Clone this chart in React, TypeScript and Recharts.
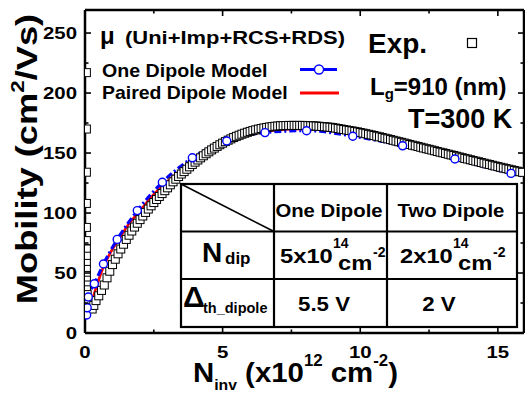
import React from 'react';
import { ComposedChart, Line, Scatter, XAxis, YAxis } from 'recharts';

const FONT = "'Liberation Sans', Arial, Helvetica, sans-serif";

// axis ticks (minor every half of a major step)
const X_TICKS = [0, 2.5, 5, 7.5, 10, 12.5, 15];
const X_LABELS = [0, 5, 10, 15];
const Y_TICKS = [0, 25, 50, 75, 100, 125, 150, 175, 200, 225, 250];
const Y_LABELS = [0, 50, 100, 150, 200, 250];

// Exp. (squares) : [Ninv, mobility]
const EXP_POINTS: [number, number][] = [
  [0.05, 217], [0.05, 170], [0.05, 134], [0.05, 108], [0.05, 88], [0.05, 77],
  [0.05, 70], [0.05, 64], [0.05, 58], [0.05, 53], [0.05, 48], [0.05, 44],
  [0.05, 40], [0.05, 36], [0.08, 32], [0.1, 28], [0.14, 24], [0.2, 21],
  [0.26, 20], [0.32, 23],
  [0.4, 27], [0.5, 31], [0.6, 35.5], [0.7, 40], [0.8, 46], [0.9, 51.5],
  [1.0, 57], [1.1, 61.5], [1.2, 66], [1.3, 70], [1.4, 74], [1.5, 78],
  [1.6, 81.5], [1.7, 85], [1.8, 88.3], [1.9, 91.5], [2.0, 94.5], [2.1, 97.5],
  [2.2, 100.5], [2.3, 103.3], [2.4, 106], [2.5, 108.7], [2.6, 111.3], [2.7, 113.8],
  [2.8, 116.2], [2.9, 118.6], [3.0, 121], [3.1, 123.5], [3.2, 126], [3.3, 128.2],
  [3.4, 130.4], [3.5, 132.5], [3.6, 134.5], [3.7, 136.5], [3.8, 138.5], [3.9, 140.5],
  [4.0, 142.4], [4.1, 144.2], [4.2, 146], [4.3, 147.7], [4.4, 149.4], [4.5, 151],
  [4.6, 152.6], [4.7, 154.1], [4.8, 155.5], [4.9, 156.9], [5.0, 158.2], [5.1, 159.5],
  [5.2, 160.7], [5.3, 161.8], [5.4, 162.9], [5.5, 163.9], [5.6, 164.8], [5.7, 165.7],
  [5.8, 166.5], [5.9, 167.3], [6.0, 168], [6.1, 168.7], [6.2, 169.3], [6.3, 169.9],
  [6.4, 170.4], [6.5, 170.9], [6.6, 171.3], [6.7, 171.7], [6.8, 172], [6.9, 172.3],
  [7.0, 172.5], [7.1, 172.7], [7.2, 172.8], [7.3, 172.9], [7.4, 173], [7.5, 173],
  [7.6, 173], [7.7, 173], [7.8, 173], [7.9, 173], [8.0, 172.9], [8.1, 172.8],
  [8.2, 172.7], [8.3, 172.6], [8.4, 172.5], [8.5, 172.3], [8.6, 172.1], [8.7, 171.9],
  [8.8, 171.7], [8.9, 171.5], [9.0, 171.2], [9.1, 170.8], [9.2, 170.4], [9.3, 170.0],
  [9.4, 169.6], [9.5, 169.2], [9.6, 168.8], [9.7, 168.4], [9.8, 168.0], [9.9, 167.6],
  [10.0, 167.1], [10.1, 166.6], [10.2, 166.1], [10.3, 165.6], [10.4, 165.1], [10.5, 164.6],
  [10.6, 164.0], [10.7, 163.5], [10.8, 162.9], [10.9, 162.3], [11.0, 161.8], [11.1, 161.2],
  [11.2, 160.6], [11.3, 160.0], [11.4, 159.4], [11.5, 158.9], [11.6, 158.3], [11.7, 157.7],
  [11.8, 157.1], [11.9, 156.5], [12.0, 156.0], [12.1, 155.4], [12.2, 154.8], [12.3, 154.2],
  [12.4, 153.6], [12.5, 153.1], [12.6, 152.5], [12.7, 151.9], [12.8, 151.3], [12.9, 150.7],
  [13.0, 150.2], [13.1, 149.6], [13.2, 149.0], [13.3, 148.4], [13.4, 147.9], [13.5, 147.3],
  [13.6, 146.7], [13.7, 146.1], [13.8, 145.5], [13.9, 145.0], [14.0, 144.4], [14.1, 143.8],
  [14.2, 143.2], [14.3, 142.7], [14.4, 142.1], [14.5, 141.5], [14.6, 140.9], [14.7, 140.4],
  [14.8, 139.8], [14.9, 139.2], [15.0, 138.7], [15.1, 138.1], [15.2, 137.6], [15.3, 137.0],
  [15.4, 136.5], [15.5, 136.0], [15.6, 135.4], [15.7, 134.9], [15.8, 134.4], [15.9, 133.9],
];

// One Dipole Model : circle markers and the dashed curve through them
const ONE_DIPOLE_MARKS: [number, number][] = [
  [0.06, 15], [0.08, 21], [0.12, 30], [0.34, 41], [0.67, 57.5], [1.17, 78],
  [1.9, 102], [2.81, 125.6], [3.9, 146], [5.15, 160], [6.54, 167], [8.05, 168.6],
  [9.73, 164], [11.54, 156], [13.44, 145], [15.48, 133],
];
const ONE_DIPOLE_LINE: [number, number][] = [[0.04, 12], ...ONE_DIPOLE_MARKS, [15.95, 130.5]];

// Paired Dipole Model
const PAIRED_DIPOLE_LINE: [number, number][] = [
  [0.15, 14], [0.2, 21], [0.3, 30], [0.45, 41], [0.65, 54], [0.9, 66], [1.2, 77],
  [1.6, 91], [2.0, 102], [2.5, 115.5], [3.0, 126.5], [3.5, 136], [4.0, 145],
  [4.5, 152.5], [5.0, 158.3], [5.5, 162.5], [6.0, 165.5], [6.5, 167.8], [7.0, 169.2],
  [7.5, 169.9], [8.0, 170], [8.5, 169.5], [9.0, 168.3], [9.5, 166.7], [10.0, 164.8],
  [10.5, 162.6], [11.0, 160.2], [11.5, 157.6], [12.0, 155], [12.5, 152.2], [13.0, 149.4],
  [13.5, 146.5], [14.0, 143.6], [14.5, 140.6], [15.0, 137.6], [15.5, 134.3], [15.95, 131.4],
];

const toXY = (pts: [number, number][]) => pts.map(([x, y]) => ({ x, y }));

type TProps = {
  x: number;
  y: number;
  size: number;
  sx?: number;
  anchor?: 'start' | 'middle' | 'end';
  rotate?: number;
  children: React.ReactNode;
};

const T = ({ x, y, size, sx = 1, anchor = 'start', rotate = 0, children }: TProps) => (
  <text
    transform={`translate(${x},${y}) rotate(${rotate}) scale(${sx},1)`}
    textAnchor={anchor}
    fontSize={size}
    fontWeight="bold"
    fontFamily={FONT}
    fill="#000"
  >
    {children}
  </text>
);

const BottomTick = (props: any) => {
  const { x, y, payload } = props;
  const major = X_LABELS.includes(payload.value);
  return (
    <g>
      <line x1={x} x2={x} y1={y} y2={y - (major ? 6 : 3.5)} stroke="#000" strokeWidth={1.6} />
      {major && (
        <T x={x} y={y + 24.5} size={17} sx={1.2} anchor="middle">
          {payload.value}
        </T>
      )}
    </g>
  );
};

const TopTick = (props: any) => {
  const { x, y, payload } = props;
  const major = X_LABELS.includes(payload.value);
  return <line x1={x} x2={x} y1={y} y2={y + (major ? 6 : 3.5)} stroke="#000" strokeWidth={1.6} />;
};

const LeftTick = (props: any) => {
  const { x, y, payload } = props;
  const major = Y_LABELS.includes(payload.value);
  return (
    <g>
      <line x1={x} x2={x + (major ? 6 : 3.5)} y1={y} y2={y} stroke="#000" strokeWidth={1.6} />
      {major && (
        <T x={x - 8} y={y + 6} size={17} sx={1.2} anchor="end">
          {payload.value}
        </T>
      )}
    </g>
  );
};

const RightTick = (props: any) => {
  const { x, y, payload } = props;
  const major = Y_LABELS.includes(payload.value);
  return <line x1={x} x2={x - (major ? 6 : 3.5)} y1={y} y2={y} stroke="#000" strokeWidth={1.6} />;
};

const SquareMark = (props: any) => {
  const { cx, cy } = props;
  return <rect x={cx - 4} y={cy - 4} width={8} height={8} fill="#fff" stroke="#000" strokeWidth={1} />;
};

const CircleMark = (props: any) => {
  const { cx, cy } = props;
  return <circle cx={cx} cy={cy} r={4} fill="#fff" stroke="#0000ff" strokeWidth={1.4} />;
};

const axisLine = { stroke: '#000', strokeWidth: 2.5 };

const Overlay = () => (
  <svg
    width={525}
    height={393}
    style={{ position: 'absolute', left: 0, top: 0, pointerEvents: 'none', overflow: 'visible' }}
  >
    {/* axis titles */}
    <T x={37} y={159} size={29} sx={1.25} anchor="middle" rotate={-90}>
      Mobility (cm<tspan fontSize={18} dy={-13}>2</tspan>
      <tspan dy={13}>/Vs)</tspan>
    </T>
    <T x={193} y={382} size={28} sx={1.05}>
      N<tspan fontSize={15} dy={8}>inv</tspan>
      <tspan dy={-8}> (x10</tspan>
      <tspan fontSize={16} dy={-16}>12</tspan>
      <tspan dy={16}> cm</tspan>
      <tspan fontSize={16} dy={-16}>-2</tspan>
      <tspan dy={16}>)</tspan>
    </T>

    {/* legend */}
    <T x={100} y={44} size={24}>μ</T>
    <T x={125} y={44} size={19} sx={1.155}>(Uni+Imp+RCS+RDS)</T>
    <T x={102} y={77} size={18} sx={1.09}>One Dipole Model</T>
    <T x={102} y={99} size={18} sx={1.08}>Paired Dipole Model</T>
    <line x1={300} x2={337} y1={69.5} y2={69.5} stroke="#0000ff" strokeWidth={3} />
    <circle cx={319} cy={69.5} r={4.5} fill="#fff" stroke="#0000ff" strokeWidth={1.4} />
    <line x1={300} x2={339} y1={93} y2={93} stroke="#ff0000" strokeWidth={3} />

    <T x={368} y={53} size={28}>Exp.</T>
    <rect x={467.5} y={38.5} width={9} height={9} fill="#fff" stroke="#000" strokeWidth={1.2} />
    <T x={370} y={95} size={24}>
      L<tspan fontSize={15} dy={4}>g</tspan>
      <tspan dy={-4}>=910 (nm)</tspan>
    </T>
    <T x={408} y={128} size={27}>T=300 K</T>

    {/* parameter table */}
    <rect x={181} y={184} width={336} height={143} fill="#fff" stroke="#000" strokeWidth={2.2} />
    <line x1={274} x2={274} y1={184} y2={327} stroke="#000" strokeWidth={2.2} />
    <line x1={387} x2={387} y1={184} y2={327} stroke="#000" strokeWidth={2.2} />
    <line x1={181} x2={517} y1={231.5} y2={231.5} stroke="#000" strokeWidth={2.2} />
    <line x1={181} x2={517} y1={279} y2={279} stroke="#000" strokeWidth={2.2} />
    <line x1={181} x2={274} y1={184} y2={231.5} stroke="#000" strokeWidth={1.6} />

    <T x={329} y={217} size={19} sx={1.07} anchor="middle">One Dipole</T>
    <T x={451} y={217} size={19} sx={1.07} anchor="middle">Two Dipole</T>

    <T x={202} y={262} size={28}>N</T>
    <T x={225} y={264} size={17}>dip</T>
    <T x={280} y={263} size={21} sx={1.13}>5x10</T>
    <T x={333} y={248} size={14}>14</T>
    <T x={338} y={270} size={21} sx={1.13}>cm</T>
    <T x={373} y={257} size={14}>-2</T>
    <T x={400} y={263} size={21} sx={1.13}>2x10</T>
    <T x={453} y={248} size={14}>14</T>
    <T x={458} y={270} size={21} sx={1.13}>cm</T>
    <T x={493} y={257} size={14}>-2</T>

    <T x={183} y={307} size={30}>Δ</T>
    <T x={203} y={313} size={14.5}>th_dipole</T>
    <T x={324} y={311} size={21} sx={1.06} anchor="middle">5.5 V</T>
    <T x={439} y={311} size={21} sx={1.06} anchor="middle">2 V</T>
  </svg>
);

const App = () => {
  return (
    <div style={{ position: 'absolute', left: 0, top: 0, width: 525, height: 393, background: '#fff' }}>
      <ComposedChart width={525} height={393} margin={{ top: 9, right: 0, bottom: 0, left: 0 }}>
        <XAxis
          dataKey="x"
          type="number"
          domain={[0, 15.95]}
          ticks={X_TICKS}
          interval={0}
          height={60}
          tickSize={0}
          tickMargin={0}
          tickLine={false}
          axisLine={axisLine}
          tick={(p: any) => <BottomTick {...p} />}
          allowDataOverflow
        />
        <XAxis
          xAxisId="top"
          orientation="top"
          dataKey="x"
          type="number"
          domain={[0, 15.95]}
          ticks={X_TICKS}
          interval={0}
          height={1}
          tickSize={0}
          tickMargin={0}
          tickLine={false}
          axisLine={axisLine}
          tick={(p: any) => <TopTick {...p} />}
          allowDataOverflow
        />
        <YAxis
          type="number"
          domain={[0, 269.2]}
          ticks={Y_TICKS}
          interval={0}
          width={85}
          tickSize={0}
          tickMargin={0}
          tickLine={false}
          axisLine={axisLine}
          tick={(p: any) => <LeftTick {...p} />}
          allowDataOverflow
        />
        <YAxis
          yAxisId="right"
          orientation="right"
          type="number"
          domain={[0, 269.2]}
          ticks={Y_TICKS}
          interval={0}
          width={1}
          tickSize={0}
          tickMargin={0}
          tickLine={false}
          axisLine={axisLine}
          tick={(p: any) => <RightTick {...p} />}
          allowDataOverflow
        />
        <Scatter
          name="Exp."
          data={toXY(EXP_POINTS)}
          dataKey="y"
          shape={(p: any) => <SquareMark {...p} />}
          isAnimationActive={false}
        />
        <Line
          name="Paired Dipole Model"
          data={toXY(PAIRED_DIPOLE_LINE)}
          dataKey="y"
          type="monotone"
          stroke="#ff0000"
          strokeWidth={2.6}
          dot={false}
          isAnimationActive={false}
        />
        <Line
          name="One Dipole Model"
          data={toXY(ONE_DIPOLE_LINE)}
          dataKey="y"
          type="monotone"
          stroke="#0000ff"
          strokeWidth={3}
          strokeDasharray="7 3 2 3"
          dot={false}
          isAnimationActive={false}
        />
        <Scatter
          name="One Dipole marks"
          data={toXY(ONE_DIPOLE_MARKS)}
          dataKey="y"
          shape={(p: any) => <CircleMark {...p} />}
          isAnimationActive={false}
        />
      </ComposedChart>
      <Overlay />
    </div>
  );
};

export default App;
